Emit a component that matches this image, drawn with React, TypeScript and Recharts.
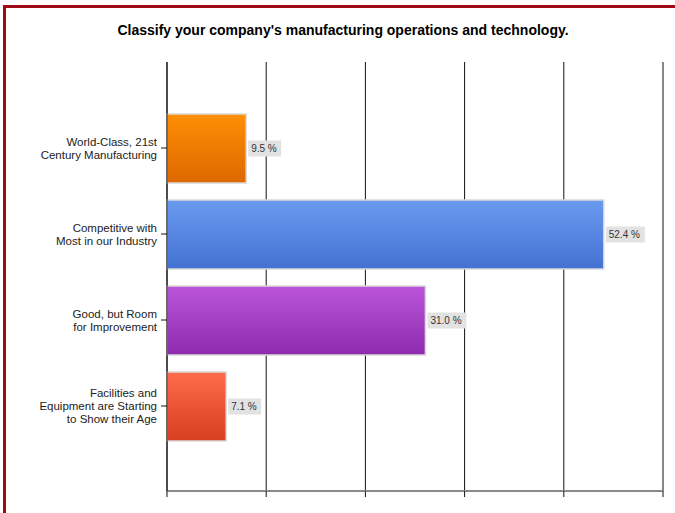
import React from 'react';
import { BarChart, Bar, XAxis, YAxis, CartesianGrid, Cell, LabelList } from 'recharts';

const categories = [
  'World-Class, 21st\nCentury Manufacturing',
  'Competitive with\nMost in our Industry',
  'Good, but Room\nfor Improvement',
  'Facilities and\nEquipment are Starting\nto Show their Age',
];
const percents = [9.5, 52.4, 31.0, 7.1];
const xMax = 59.5;
const xTicks = [0, 11.9, 23.8, 35.7, 47.6, 59.5];
const gradients = [
  ['#ff8f05', '#dc6800'],
  ['#6b9af0', '#4472d2'],
  ['#bb56da', '#8d2aae'],
  ['#ff6b4b', '#d63f1f'],
];

const data = categories.map((name, i) => ({ name, value: percents[i] }));

const FONT = '"Liberation Sans", Arial, sans-serif';

const CategoryTick = (props: any) => {
  const { x, y, payload } = props;
  const lines: string[] = String(payload.value).split('\n');
  const lh = 13;
  const start = y - ((lines.length - 1) * lh) / 2;
  return (
    <text x={x - 2} textAnchor="end" fontFamily={FONT} fontSize={11.5} fill="#222">
      {lines.map((l, i) => (
        <tspan key={i} x={x - 2} y={start + i * lh} dy="0.35em">{l}</tspan>
      ))}
    </text>
  );
};

const EmptyTick = () => <g />;

const ValueLabel = (props: any) => {
  const { x, y, width, height, value } = props;
  const txt = `${Number(value).toFixed(1)} %`;
  const w = txt.length * 6 + 3;
  const bx = x + width + 2;
  const cy = y + height / 2;
  return (
    <g>
      <rect x={bx} y={cy - 8} width={w} height={16} fill="#e2e2e2" />
      <text x={bx + 3} y={cy} dy="0.35em" fontFamily={FONT} fontSize={10} fill="#333">{txt}</text>
    </g>
  );
};

export default function App() {
  return (
    <div style={{ position: 'fixed', left: 0, top: 0, width: 675, height: 513, background: '#fff' }}>
      <div style={{ position: 'absolute', left: 3, top: 5, width: 700, height: 600, borderLeft: '3px solid #a00a14', borderTop: '3px solid #a00a14' }} />
      <div style={{ position: 'absolute', left: 0, top: 22, width: 686, textAlign: 'center', fontFamily: FONT, fontWeight: 'bold', fontSize: 14, color: '#000' }}>
        Classify your company's manufacturing operations and technology.
      </div>
      <div style={{ position: 'absolute', left: 0, top: 0 }}>
        <BarChart width={675} height={513} data={data} layout="vertical" margin={{ top: 62, right: 12, bottom: 16, left: 7 }}>
          <defs>
            {gradients.map((g, i) => (
              <linearGradient key={i} id={`grad${i}`} x1="0" y1="0" x2="0" y2="1">
                <stop offset="0%" stopColor={g[0]} />
                <stop offset="100%" stopColor={g[1]} />
              </linearGradient>
            ))}
          </defs>
          <CartesianGrid horizontal={false} stroke="#111" strokeWidth={1} />
          <XAxis type="number" domain={[0, xMax]} ticks={xTicks} tick={<EmptyTick />} height={6} tickSize={6}
            axisLine={{ stroke: '#8a8a8a', strokeWidth: 2 }} tickLine={{ stroke: '#111' }} />
          <YAxis type="category" dataKey="name" width={160} padding={{ top: 43, bottom: 42 }}
            tick={<CategoryTick />} tickSize={6} tickLine={{ stroke: '#111' }} axisLine={{ stroke: '#111' }} interval={0} />
          <Bar dataKey="value" barSize={69} stroke="#d9d9d9" strokeWidth={1.5} isAnimationActive={false}>
            {data.map((_, i) => (
              <Cell key={i} fill={`url(#grad${i})`} />
            ))}
            <LabelList dataKey="value" content={<ValueLabel />} />
          </Bar>
        </BarChart>
      </div>
    </div>
  );
}
